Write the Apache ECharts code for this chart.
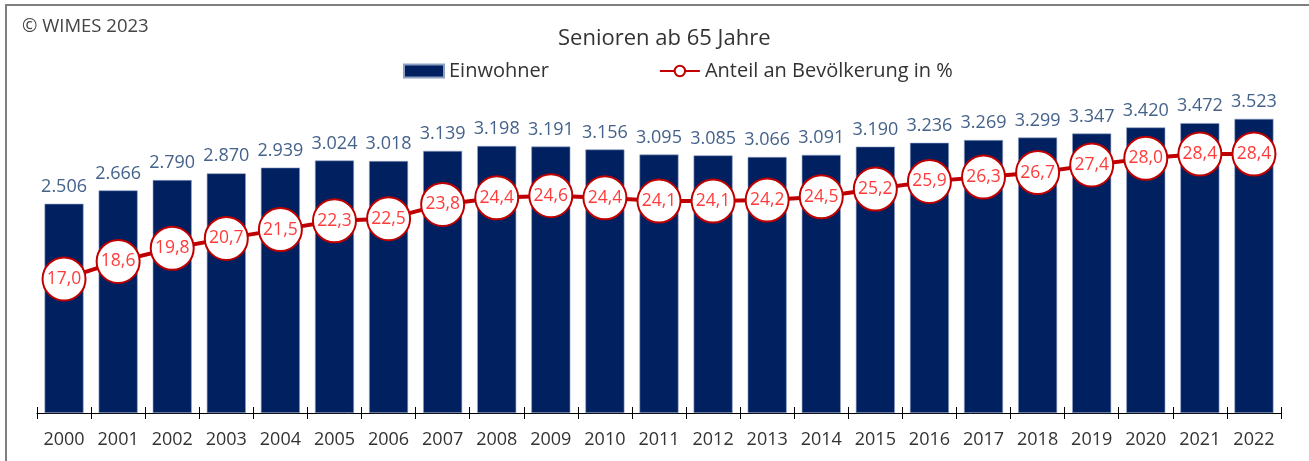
<!DOCTYPE html>
<html>
<head>
<meta charset="utf-8">
<script src="https://cdn.jsdelivr.net/npm/echarts@6/dist/echarts.min.js"></script>
<style>
  html, body { margin: 0; padding: 0; background: #fff; }
  #chart { width: 1309px; height: 461px; }
</style>
</head>
<body>
<div id="chart"></div>
<script>
let years = ['2000', '2001', '2002', '2003', '2004', '2005', '2006', '2007', '2008', '2009', '2010', '2011',
  '2012', '2013', '2014', '2015', '2016', '2017', '2018', '2019', '2020', '2021', '2022']
let einwohner = [2506, 2666, 2790, 2870, 2939, 3024, 3018, 3139, 3198, 3191, 3156, 3095,
  3085, 3066, 3091, 3190, 3236, 3269, 3299, 3347, 3420, 3472, 3523]
let anteil = [17.0, 18.6, 19.8, 20.7, 21.5, 22.3, 22.5, 23.8, 24.4, 24.6, 24.4, 24.1,
  24.1, 24.2, 24.5, 25.2, 25.9, 26.3, 26.7, 27.4, 28.0, 28.4, 28.4]

let font = '"Open Sans", sans-serif'

let option = {
  animation: false,
  textStyle: { fontFamily: font },
  title: {
    left: 553,
    top: 23,
    text: 'Senioren ab 65 Jahre',
    textStyle: { fontSize: 22, fontWeight: 'normal', color: '#333', fontFamily: font }
  },
  graphic: [{
    type: 'text',
    left: 22,
    top: 17,
    style: { text: '© WIMES 2023', fontSize: 18.5, fill: '#444', fontFamily: font }
  }, {
    type: 'polyline',
    shape: { points: [[6, 461], [6, 5], [1309, 5]] },
    style: { stroke: '#7f7f7f', lineWidth: 2, fill: null }
  }],
  legend: {
    top: 56,
    left: 398,
    itemGap: 110,
    itemWidth: 40,
    itemHeight: 13,
    textStyle: { fontSize: 20, color: '#333', fontFamily: font },
    data: [
      { name: 'Einwohner', icon: 'rect' },
      { name: 'Anteil an Bevölkerung in %' }
    ]
  },
  grid: {
    top: 79,
    left: 37,
    right: 28,
    bottom: 48
  },
  xAxis: [{
    type: 'category',
    data: years,
    axisLine: { show: true, lineStyle: { color: '#000', width: 1 } },
    axisTick: { show: true, length: 6, lineStyle: { color: '#000' } },
    axisLabel: { fontSize: 18, color: '#333', margin: 18, fontFamily: font }
  }, {
    type: 'category',
    data: years,
    position: 'bottom',
    axisLine: { show: false },
    axisTick: { show: true, inside: true, length: 6, lineStyle: { color: '#000' } },
    axisLabel: { show: false }
  }],
  yAxis: [{
    type: 'value',
    min: 0,
    max: 4000,
    show: false,
    splitLine: { show: false }
  }, {
    type: 'value',
    min: 4.77,
    max: 35.24,
    show: false,
    splitLine: { show: false }
  }],
  series: [{
    name: 'Einwohner',
    type: 'bar',
    barWidth: 39,
    data: einwohner,
    itemStyle: { color: '#002060', borderColor: '#8e9fc4', borderWidth: 0.6 },
    label: {
      show: true,
      position: 'top',
      distance: 8,
      fontSize: 18,
      color: '#44628a',
      fontFamily: font,
      formatter: p => p.value.toLocaleString('de-DE')
    }
  }, {
    name: 'Anteil an Bevölkerung in %',
    type: 'line',
    yAxisIndex: 1,
    data: anteil,
    symbol: 'circle',
    symbolSize: 43,
    lineStyle: { color: '#c00000', width: 4 },
    itemStyle: { color: '#fff', borderColor: '#c00000', borderWidth: 2 },
    label: {
      show: true,
      position: 'inside',
      fontSize: 17.5,
      color: '#ff3b3b',
      fontFamily: font,
      formatter: p => p.value.toFixed(1).replace('.', ',')
    },
    z: 5
  }]
}

let chart = echarts.init(document.getElementById('chart'))
chart.setOption(option)
</script>
</body>
</html>
